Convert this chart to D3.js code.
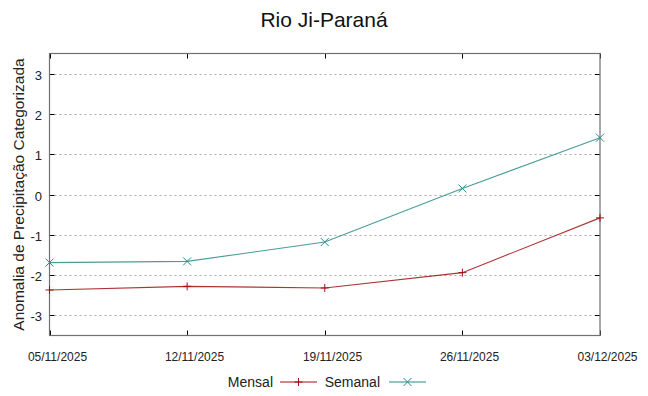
<!DOCTYPE html>
<html>
<head>
<meta charset="utf-8">
<script src="https://cdn.jsdelivr.net/npm/d3@7"></script>
<style>
  body { margin: 0; background: white; }
  text { font-family: "Liberation Sans", Arial, sans-serif; }
</style>
</head>
<body>
<div id="chart"></div>
<script>
// data
var dates = ['05/11/2025', '12/11/2025', '19/11/2025', '26/11/2025', '03/12/2025']
var mensal = [-2.37, -2.28, -2.32, -1.94, -0.58]
var semanal = [-1.69, -1.66, -1.18, 0.15, 1.41]
var yTicks = [-3, -2, -1, 0, 1, 2, 3]

var W = 648, H = 396
var margin = { left: 49.5, right: 48, top: 53.5, bottom: 60.5 }

var svg = d3.select('#chart').append('svg')
  .attr('width', W)
  .attr('height', H)

var parse = d3.timeParse('%d/%m/%Y')
var x = d3.scaleTime()
  .domain([parse(dates[0]), parse(dates[dates.length - 1])])
  .range([margin.left, W - margin.right])
var y = d3.scaleLinear()
  .domain([-3.5, 3.5])
  .range([H - margin.bottom, margin.top])

// grid
svg.selectAll('line.grid')
  .data(yTicks)
  .enter().append('line')
  .attr('class', 'grid')
  .attr('x1', margin.left).attr('x2', W - margin.right)
  .attr('y1', d => Math.round(y(d)) + 0.5).attr('y2', d => Math.round(y(d)) + 0.5)
  .attr('stroke', '#a8a8a8')
  .attr('stroke-dasharray', '2,3')

// ticks (inward, mirrored like gnuplot)
var tickLen = 5
var yTickG = svg.append('g')
yTicks.forEach(function (t) {
  var yy = Math.round(y(t)) + 0.5
  yTickG.append('line').attr('x1', margin.left).attr('x2', margin.left + tickLen)
    .attr('y1', yy).attr('y2', yy).attr('stroke', 'black')
  yTickG.append('line').attr('x1', W - margin.right - tickLen).attr('x2', W - margin.right)
    .attr('y1', yy).attr('y2', yy).attr('stroke', 'black')
  yTickG.append('text')
    .attr('x', 42).attr('y', yy + 5)
    .attr('text-anchor', 'end')
    .attr('font-size', 13)
    .attr('fill', '#222')
    .text(t)
})

dates.forEach(function (d) {
  var xx = Math.round(x(parse(d))) + 0.5
  svg.append('line').attr('x1', xx).attr('x2', xx)
    .attr('y1', H - margin.bottom).attr('y2', H - margin.bottom - tickLen).attr('stroke', 'black')
  svg.append('line').attr('x1', xx).attr('x2', xx)
    .attr('y1', margin.top).attr('y2', margin.top + tickLen).attr('stroke', 'black')
  svg.append('text')
    .attr('x', xx + 7).attr('y', 361)
    .attr('text-anchor', 'middle')
    .attr('font-size', 12)
    .attr('fill', '#222')
    .text(d)
})

// border
svg.append('rect')
  .attr('x', margin.left).attr('y', margin.top)
  .attr('width', W - margin.left - margin.right)
  .attr('height', H - margin.top - margin.bottom)
  .attr('fill', 'none')
  .attr('stroke', '#707070')
  .attr('stroke-width', 1.2)

// series
var series = [
  { name: 'Mensal', values: mensal, color: '#a01010', marker: 'plus' },
  { name: 'Semanal', values: semanal, color: '#2a8a8a', marker: 'cross' }
]

var line = d3.line()
  .x((d, i) => x(parse(dates[i])))
  .y(d => y(d))

function drawMarker(g, cx, cy, type, color) {
  var s = 4
  if (type === 'plus') {
    g.append('path').attr('d', `M${cx - s},${cy}H${cx + s}M${cx},${cy - s}V${cy + s}`)
      .attr('stroke', color).attr('stroke-width', 1).attr('fill', 'none')
  } else {
    g.append('path').attr('d', `M${cx - s},${cy - s}L${cx + s},${cy + s}M${cx - s},${cy + s}L${cx + s},${cy - s}`)
      .attr('stroke', color).attr('stroke-width', 1).attr('fill', 'none')
  }
}

series.forEach(function (s) {
  svg.append('path')
    .datum(s.values)
    .attr('d', line)
    .attr('fill', 'none')
    .attr('stroke', s.color)
    .attr('stroke-width', 1.1)
    .attr('stroke-opacity', 0.85)
  var g = svg.append('g')
  s.values.forEach(function (v, i) {
    drawMarker(g, x(parse(dates[i])), y(v), s.marker, s.color)
  })
})

// legend
var legendY = 382
var legend = [
  { s: series[0], textEnd: 273, x1: 280, x2: 317 },
  { s: series[1], textEnd: 380, x1: 389, x2: 426 }
]
legend.forEach(function (l) {
  svg.append('text')
    .attr('x', l.textEnd).attr('y', legendY + 5)
    .attr('text-anchor', 'end')
    .attr('font-size', 14)
    .attr('fill', '#222')
    .text(l.s.name)
  svg.append('line')
    .attr('x1', l.x1).attr('x2', l.x2)
    .attr('y1', legendY).attr('y2', legendY)
    .attr('stroke', l.s.color).attr('stroke-width', 1.2)
  drawMarker(svg, (l.x1 + l.x2) / 2, legendY, l.s.marker, l.s.color)
})

// title and axis label
svg.append('text')
  .attr('x', 324).attr('y', 27)
  .attr('text-anchor', 'middle')
  .attr('font-size', 21)
  .attr('fill', '#111')
  .text('Rio Ji-Paraná')

svg.append('text')
  .attr('transform', `translate(24, ${(margin.top + H - margin.bottom) / 2}) rotate(-90)`)
  .attr('text-anchor', 'middle')
  .attr('font-size', 15.5)
  .attr('fill', '#222')
  .text('Anomalia de Precipitação Categorizada')
</script>
</body>
</html>
